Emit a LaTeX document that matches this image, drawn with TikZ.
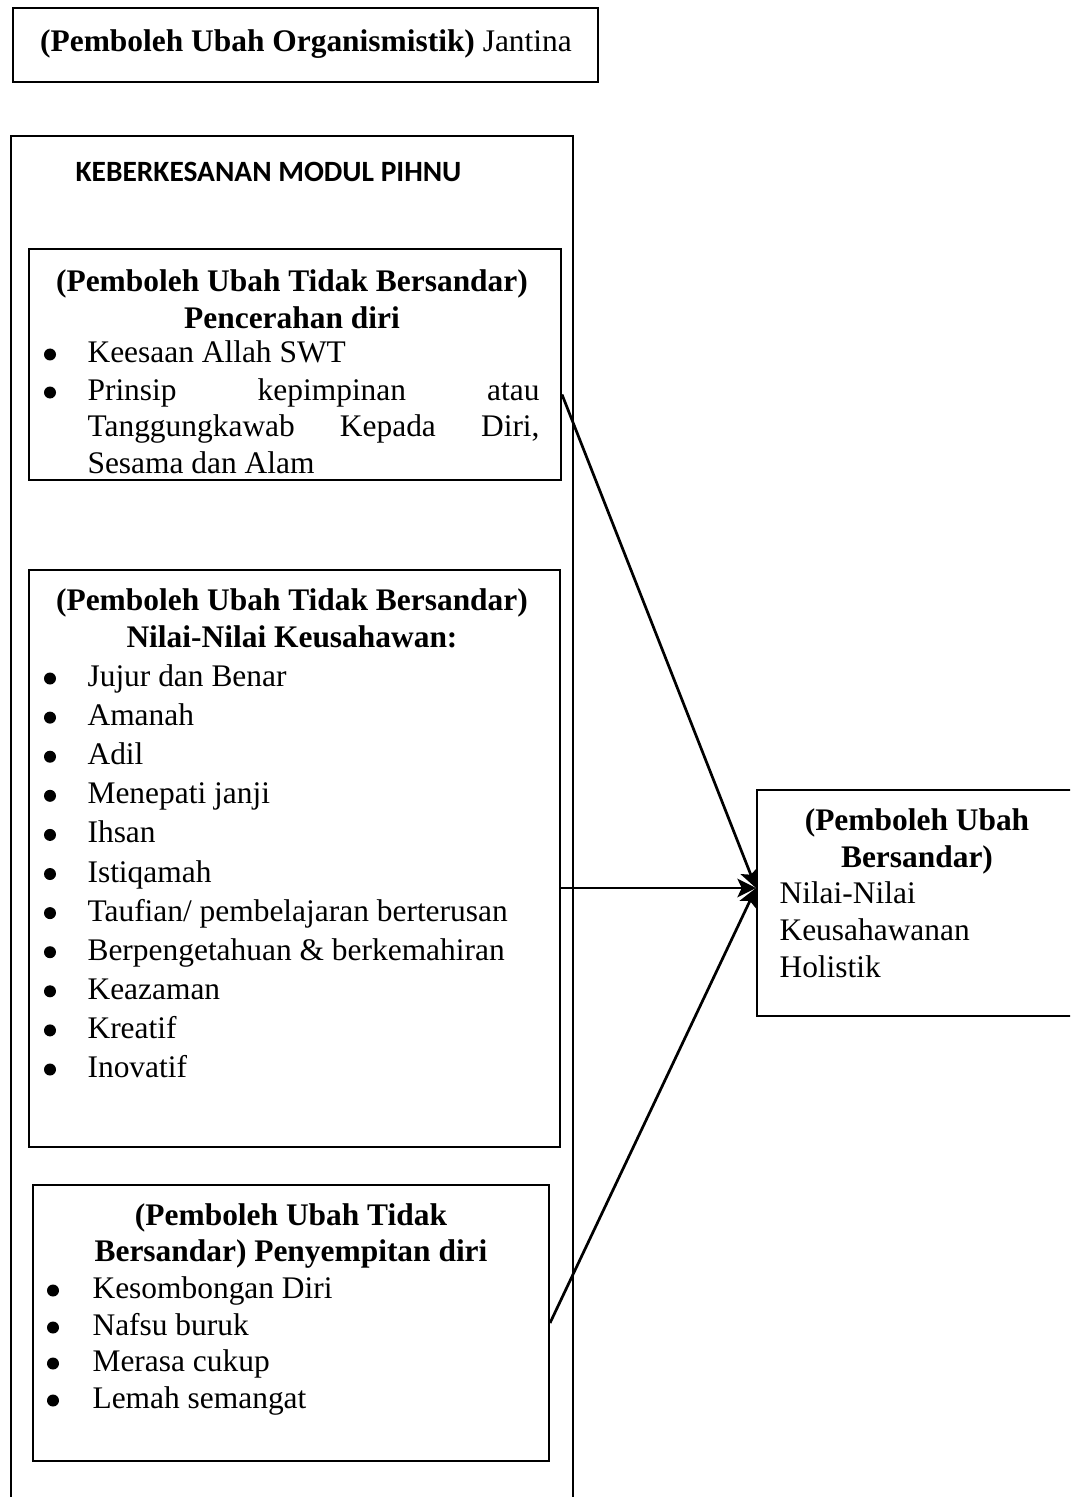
\documentclass[tikz,border=0pt]{standalone}
\usepackage{fontspec}
\setmainfont{Liberation Serif}
\newfontfamily\hdrfont{Carlito}
\usetikzlibrary{fit,calc,arrows.meta}
\newcommand{\fs}{\fontsize{11pt}{13.7pt}\selectfont}
\begin{document}
\begin{tikzpicture}[x=0.35pt,y=-0.35pt,
  frame/.style={draw, line width=0.7pt, inner sep=0pt},
  ttl/.style={inner sep=0pt, anchor=mid, font=\fs\bfseries, align=center},
  itx/.style={inner sep=0pt, anchor=mid west, font=\fs},
  dot/.style={fill=black},
  link/.style={draw, line width=0.95pt, -{Stealth[length=6.5pt,width=6.5pt,inset=1.5pt]}}]
\clip (0,0) rectangle (1070,1497);
% top box
\node[frame, fit={(13,8) (598,82)}] (top) {};
\node[inner sep=0pt, anchor=mid, font=\fs] (toptxt) at (306,45) {\textbf{(Pemboleh Ubah Organismistik)} Jantina};
% big box
\node[frame, fit={(11,136) (573,1530)}] (big) {};
\node[inner sep=0pt, anchor=mid west, font=\hdrfont\bfseries\fontsize{10.3pt}{12pt}\selectfont] (hdr) at (75,175) {KEBERKESANAN MODUL PIHNU};
% box 1
\node[frame, fit={(29,249) (561,480)}] (b1) {};
\node[ttl] (b1t1) at (292,285) {(Pemboleh Ubah Tidak Bersandar)};
\node[ttl] (b1t2) at (292,322) {Pencerahan diri};
\node[itx] (b1i1) at (87,356) {Keesaan Allah SWT};
\node[itx] (b1i2) at (87,394) {\hbox to 158.2pt{Prinsip\hfill kepimpinan\hfill atau}};
\node[itx] (b1i3) at (87,430) {\hbox to 158.2pt{Tanggungkawab\hfill Kepada\hfill Diri,}};
\node[itx] (b1i4) at (87,467) {Sesama dan Alam};
\foreach \yy in {356,394} \fill[dot] (50,\yy-1.5) circle (2.1pt);
% box 2
\node[frame, fit={(29,570) (560,1147)}] (b2) {};
\node[ttl] (b2t1) at (292,604) {(Pemboleh Ubah Tidak Bersandar)};
\node[ttl] (b2t2) at (292,641) {Nilai-Nilai Keusahawan:};
\foreach \k/\t in {1/{Jujur dan Benar}, 2/{Amanah}, 3/{Adil}, 4/{Menepati janji}, 5/{Ihsan}, 6/{Istiqamah},
  7/{Taufian/ pembelajaran berterusan}, 8/{Berpengetahuan \& berkemahiran}, 9/{Keazaman}, 10/{Kreatif}, 11/{Inovatif}}{
  \node[itx] (b2i\k) at (87,{680+39.1*(\k-1)}) {\t};
  \fill[dot] (50,{680+39.1*(\k-1)-1.5}) circle (2.1pt);
}
% box 3
\node[frame, fit={(33,1185) (549,1461)}] (b3) {};
\node[ttl] (b3t1) at (291,1219) {(Pemboleh Ubah Tidak};
\node[ttl] (b3t2) at (291,1255) {Bersandar) Penyempitan diri};
\foreach \k/\yy/\t in {1/1292/{Kesombongan Diri}, 2/1329/{Nafsu buruk}, 3/1365/{Merasa cukup}, 4/1402/{Lemah semangat}}{
  \node[itx] (b3i\k) at (92,\yy) {\t};
  \fill[dot] (53,\yy-1.5) circle (2.1pt);
}
% right box
\node[frame, fit={(757,790) (1090,1016)}] (rb) {};
\node[ttl] (rbt1) at (917,824) {(Pemboleh Ubah};
\node[ttl] (rbt2) at (917,861) {Bersandar)};
\node[itx] (rbi1) at (779,897) {Nilai-Nilai};
\node[itx] (rbi2) at (779,934) {Keusahawanan};
\node[itx] (rbi3) at (779,971) {Holistik};
% arrows
\coordinate (tgt) at ($(rb.west)+(0,-15)$);
\draw[link] ($(b1.east)+(0,30)$) -- (tgt);
\draw[link] (b2.east |- tgt) -- (tgt);
\draw[link] (b3.east) -- (tgt);
\end{tikzpicture}
\end{document}
